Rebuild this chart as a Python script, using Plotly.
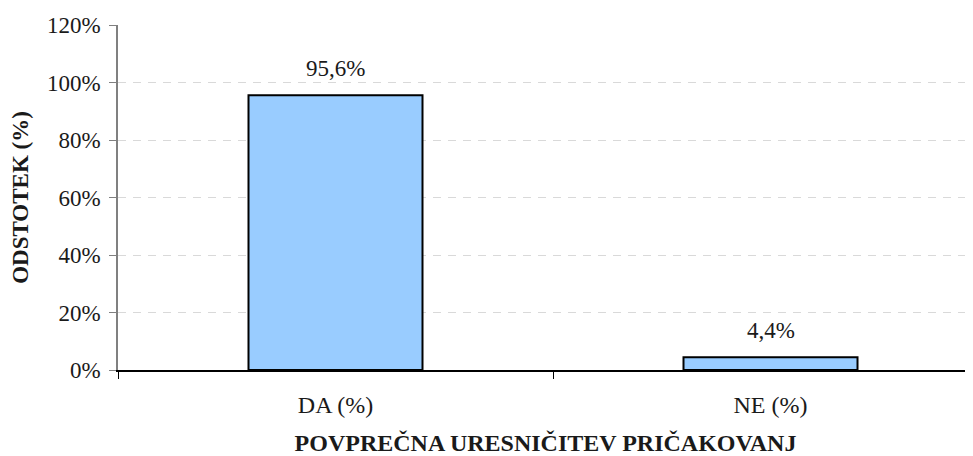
import plotly.graph_objects as go

categories = ["DA (%)", "NE (%)"]
values = [95.6, 4.4]
labels = ["95,6%", "4,4%"]
y_ticks = [0, 20, 40, 60, 80, 100, 120]
y_tick_labels = ["0%", "20%", "40%", "60%", "80%", "100%", "120%"]

FONT = "Liberation Serif"

fig = go.Figure()
fig.add_trace(go.Bar(
    x=categories, y=values, width=0.4,
    marker=dict(color="#99CCFF", line=dict(color="black", width=2)),
    hoverinfo="skip",
))
for c, v, t in zip(categories, values, labels):
    fig.add_annotation(x=c, y=v, text=t, showarrow=False, yanchor="bottom",
                       yshift=12, font=dict(family=FONT, size=23, color="#1a1a1a"))

# page body has an 8px default margin, so the figure is offset by 8px
fig.update_layout(
    width=965, height=448,
    margin=dict(l=110, r=0, t=17, b=86),
    plot_bgcolor="white", paper_bgcolor="white",
    showlegend=False,
    font=dict(family=FONT, size=23, color="#1a1a1a"),
    xaxis=dict(
        type="category", range=[-0.5, 1.4655], automargin=False,
        showline=True, linecolor="black", linewidth=1.5,
        ticks="outside", tickson="boundaries", ticklen=7, tickcolor="black", tickwidth=1,
        showgrid=False, zeroline=False,
        tickfont=dict(family=FONT, size=24), ticklabelstandoff=12,
        title=dict(text="<b>POVPREČNA URESNIČITEV PRIČAKOVANJ</b>", standoff=20,
                   font=dict(family=FONT, size=24)),
    ),
    yaxis=dict(
        range=[0, 120], tickvals=y_ticks, ticktext=y_tick_labels, automargin=False,
        showline=True, linecolor="#808080", linewidth=1.5,
        ticks="outside", ticklen=7, tickcolor="#808080", tickwidth=1,
        showgrid=True, gridcolor="#d9d9d9", gridwidth=1, griddash="8px,7px",
        zeroline=False,
        tickfont=dict(family=FONT, size=23), ticklabelstandoff=4,
        title=dict(text="<b>ODSTOTEK (%)</b>", standoff=13,
                   font=dict(family=FONT, size=23)),
    ),
)

fig.write_html("out.html")
